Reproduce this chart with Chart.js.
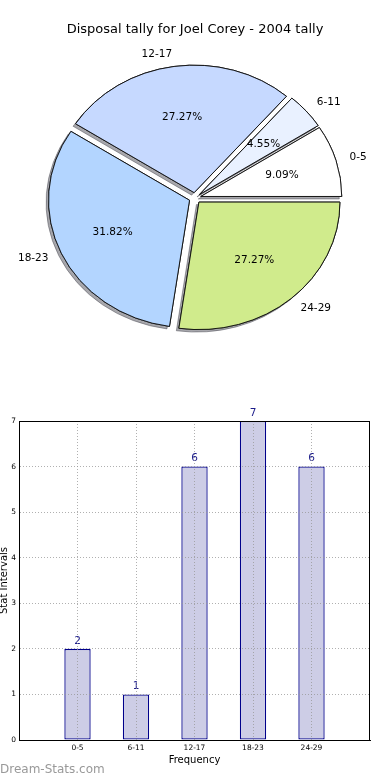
<!DOCTYPE html>
<html>
<head>
<meta charset="utf-8">
<script src="https://cdn.jsdelivr.net/npm/chart.js@4.4.1/dist/chart.umd.min.js"></script>
<style>
  html, body { margin: 0; padding: 0; background: #fff; width: 390px; height: 780px; overflow: hidden; }
  #pie { position: absolute; left: 0; top: 0; }
  #bar { position: absolute; left: 0; top: 395px; }
  #wm { position: absolute; left: 0; top: 762px; font: 12px "DejaVu Sans", sans-serif; color: #999; white-space: nowrap; }
</style>
</head>
<body>
<canvas id="pie" width="390" height="360"></canvas>
<canvas id="bar" width="390" height="385"></canvas>
<div id="wm">Dream-Stats.com</div>
<script>
// ---- data ----
const categories = ['0-5', '6-11', '12-17', '18-23', '24-29'];
const tallies = [2, 1, 6, 7, 6];
const sliceColors = ['#ffffff', '#e9f1ff', '#c6d9ff', '#b3d5ff', '#d0eb8c'];
const yTicks = [0, 1, 2, 3, 4, 5, 6, 7];
const xTickValues = [-1, 0, 1, 2, 3, 4, 5];
const pieTitle = 'Disposal tally for Joel Corey - 2004 tally';
const xTitle = 'Frequency';
const yTitle = 'Stat Intervals';

const FONT = '"DejaVu Sans", sans-serif';
Chart.defaults.font.family = FONT;
Chart.defaults.color = '#000';

// ---- pie (matplotlib style: counter-clockwise from 3 o'clock, exploded, shadowed, elliptical) ----
const EXPLODE = 6;
const SY = 0.904;
const total = tallies.reduce((a, b) => a + b, 0);
const pieLabels = categories.slice().reverse();
const pieValues = tallies.slice().reverse();
const pieCols = sliceColors.slice().reverse();

const pieFx = {
  id: 'pieFx',
  beforeDatasetsDraw(chart) {
    const ctx = chart.ctx;
    const arcs = chart.getDatasetMeta(0).data;
    const cx = arcs[0].x, cy = arcs[0].y;
    ctx.save();
    ctx.translate(cx, cy); ctx.scale(1, SY); ctx.translate(-cx, -cy);
    [0, 1].forEach(pass => {
      arcs.forEach(el => {
        const a = (el.startAngle + el.endAngle) / 2;
        ctx.save();
        ctx.translate(Math.cos(a) * EXPLODE, Math.sin(a) * EXPLODE);
        if (pass === 0) {
          ctx.shadowColor = 'rgba(60,60,70,0.45)';
          ctx.shadowOffsetX = -2.5;
          ctx.shadowOffsetY = 2.5;
          ctx.shadowBlur = 0;
        }
        el.draw(ctx);
        ctx.restore();
      });
    });
    ctx.restore();
    return false;
  },
  afterDraw(chart) {
    const ctx = chart.ctx;
    const arcs = chart.getDatasetMeta(0).data;
    ctx.save();
    ctx.fillStyle = '#000';
    ctx.font = '10.5px ' + FONT;
    ctx.textBaseline = 'middle';
    arcs.forEach((el, i) => {
      const a = (el.startAngle + el.endAngle) / 2;
      const R = el.outerRadius;
      const c = Math.cos(a), s = Math.sin(a);
      const rl = EXPLODE + 1.1 * R;
      ctx.textAlign = c > 0 ? 'left' : 'right';
      ctx.fillText(pieLabels[i], el.x + c * rl, el.y + s * rl * SY);
      const rp = EXPLODE + 0.6 * R;
      ctx.textAlign = 'center';
      ctx.fillText((pieValues[i] / total * 100).toFixed(2) + '%', el.x + c * rp, el.y + s * rp * SY);
    });
    ctx.restore();
  }
};

new Chart(document.getElementById('pie'), {
  type: 'pie',
  data: {
    labels: pieLabels,
    datasets: [{
      data: pieValues,
      backgroundColor: pieCols,
      borderColor: '#111',
      borderWidth: 1,
      clip: false
    }]
  },
  options: {
    responsive: false,
    animation: false,
    rotation: 90,
    radius: 141,
    layout: { padding: { top: 0, bottom: 11.6, left: 0, right: 0 } },
    plugins: {
      legend: { display: false },
      tooltip: { enabled: false },
      title: {
        display: true,
        text: pieTitle,
        color: '#000',
        font: { size: 13, weight: 'normal', family: FONT },
        padding: { top: 22, bottom: 10 }
      }
    }
  },
  plugins: [pieFx]
});

// ---- bar chart ----
const barFx = {
  id: 'barFx',
  afterDatasetsDraw(chart) {
    const ctx = chart.ctx;
    const bars = chart.getDatasetMeta(0).data;
    ctx.save();
    ctx.fillStyle = '#1b1b8a';
    ctx.font = '10.5px ' + FONT;
    ctx.textAlign = 'center';
    ctx.textBaseline = 'middle';
    bars.forEach((el, i) => {
      ctx.fillText(String(tallies[i]), el.x, el.y - 8);
    });
    ctx.restore();
  },
  afterDraw(chart) {
    const ctx = chart.ctx;
    const a = chart.chartArea;
    ctx.save();
    ctx.strokeStyle = '#000';
    ctx.lineWidth = 1;
    ctx.strokeRect(Math.round(a.left) + 0.5, Math.round(a.top) + 0.5, Math.round(a.right - a.left) - 1, Math.round(a.bottom - a.top));
    ctx.restore();
  }
};

const gridColor = 'rgba(150,150,150,0.75)';

new Chart(document.getElementById('bar'), {
  type: 'bar',
  data: {
    datasets: [{
      data: tallies.map((v, i) => ({ x: i, y: v })),
      backgroundColor: '#cdcde6',
      borderColor: '#00008b',
      borderWidth: 1.3,
      borderSkipped: false,
      barPercentage: 0.45,
      categoryPercentage: 1
    }]
  },
  options: {
    responsive: false,
    animation: false,
    layout: { padding: { left: 0, right: 20, top: 26, bottom: 0 } },
    plugins: { legend: { display: false }, tooltip: { enabled: false } },
    scales: {
      x: {
        type: 'linear',
        min: -1,
        max: 5,
        offset: false,
        afterFit: s => { s.height = 40; },
        afterBuildTicks: s => { s.ticks = xTickValues.map(v => ({ value: v })); },
        ticks: {
          autoSkip: false,
          maxRotation: 0,
          padding: 4,
          color: '#000',
          font: { size: 7.5, family: FONT },
          callback: v => (v >= 0 && v < categories.length) ? categories[v] : ''
        },
        grid: {
          z: 1,
          offset: false,
          drawTicks: false,
          lineWidth: 1,
          color: c => (c.tick && (c.tick.value < 0 || c.tick.value > 4)) ? 'rgba(0,0,0,0)' : gridColor
        },
        border: { display: true, color: '#000', width: 1, dash: [1, 2], z: 2 },
        title: {
          display: true,
          text: xTitle,
          color: '#000',
          font: { size: 10, family: FONT },
          padding: { top: 0, bottom: 14 }
        }
      },
      y: {
        min: 0,
        max: 7,
        afterFit: s => { s.width = 19; },
        afterBuildTicks: s => { s.ticks = yTicks.map(v => ({ value: v })); },
        ticks: {
          padding: 3,
          color: '#000',
          font: { size: 7.5, family: FONT }
        },
        grid: {
          z: 1,
          drawTicks: false,
          lineWidth: 1,
          color: gridColor
        },
        border: { display: true, color: '#000', width: 1, dash: [1, 2], z: 2 },
        title: {
          display: true,
          text: yTitle,
          color: '#000',
          font: { size: 10, family: FONT },
          padding: { top: -2, bottom: 0 }
        }
      }
    }
  },
  plugins: [barFx]
});
</script>
</body>
</html>
